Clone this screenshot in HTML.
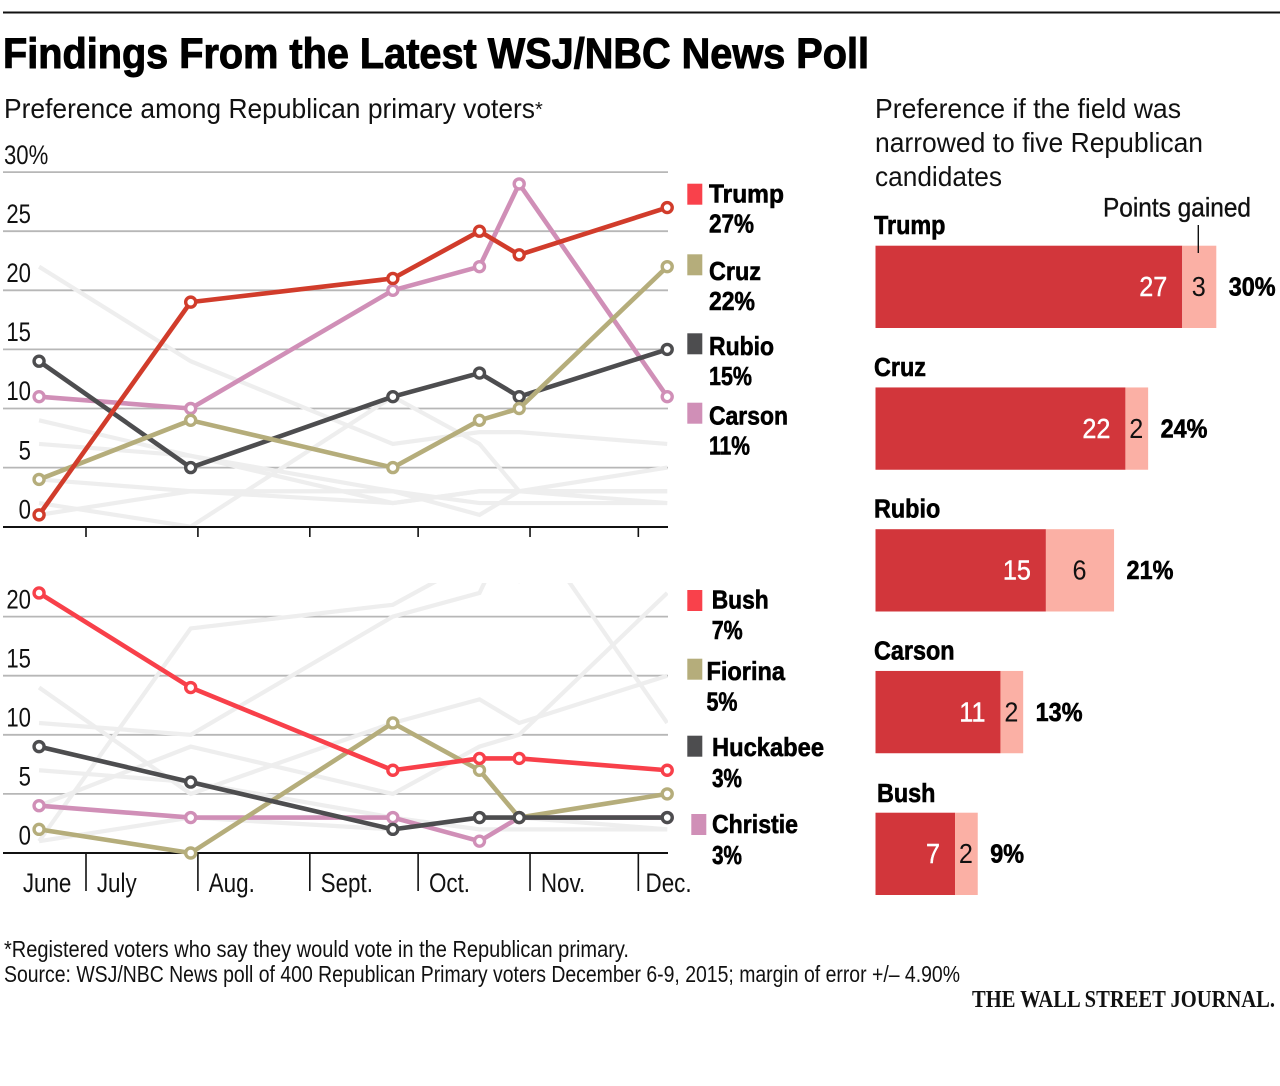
<!DOCTYPE html>
<html lang="en">
<head>
<meta charset="utf-8">
<title>Findings From the Latest WSJ/NBC News Poll</title>
<style>
html,body{margin:0;padding:0;background:#fff;}
svg{display:block;font-family:"Liberation Sans",sans-serif;}
.b{font-weight:700;fill:#000;stroke:#000;stroke-width:.6px;}
.r{fill:#111;}
</style>
</head>
<body>
<svg id="chart" xmlns="http://www.w3.org/2000/svg" width="1280" height="1086" viewBox="0 0 1280 1086">
<defs>
<clipPath id="clip-top"><rect x="0" y="150" width="668" height="377"></rect></clipPath>
<clipPath id="clip-bottom"><rect x="0" y="583" width="668" height="270"></rect></clipPath>
</defs>
<rect x="3" y="11.5" width="1277" height="2" fill="#111"></rect>
<text class="b" x="3" y="68" font-size="43" textLength="866" lengthAdjust="spacingAndGlyphs" style="stroke-width:1px">Findings From the Latest WSJ/NBC News Poll</text>
<text class="r" x="4" y="118" font-size="28" textLength="531" lengthAdjust="spacingAndGlyphs">Preference among Republican primary voters</text>
<text class="r" x="535" y="116" font-size="20">*</text>
<text class="r" x="875" y="118" font-size="28" textLength="306" lengthAdjust="spacingAndGlyphs">Preference if the field was</text>
<text class="r" x="875" y="152" font-size="28" textLength="328" lengthAdjust="spacingAndGlyphs">narrowed to five Republican</text>
<text class="r" x="875" y="186" font-size="28" textLength="127" lengthAdjust="spacingAndGlyphs">candidates</text>

<g id="top-panel"></g>
<g id="bottom-panel"></g>
<g id="bars"></g>

<g>
<rect x="687.3" y="183.7" width="15" height="21" fill="#f9414b"></rect>
<text class="b" x="709" y="202.7" font-size="26" textLength="75" lengthAdjust="spacingAndGlyphs">Trump</text>
<text class="b" x="709" y="232.3" font-size="26" textLength="45" lengthAdjust="spacingAndGlyphs">27%</text>
<rect x="687.3" y="254.3" width="15" height="21" fill="#b5ad7b"></rect>
<text class="b" x="709" y="280" font-size="26" textLength="52" lengthAdjust="spacingAndGlyphs">Cruz</text>
<text class="b" x="709" y="310" font-size="26" textLength="46" lengthAdjust="spacingAndGlyphs">22%</text>
<rect x="687.3" y="333.3" width="15" height="21" fill="#4d4d4f"></rect>
<text class="b" x="709" y="355" font-size="26" textLength="65" lengthAdjust="spacingAndGlyphs">Rubio</text>
<text class="b" x="709" y="385" font-size="26" textLength="43" lengthAdjust="spacingAndGlyphs">15%</text>
<rect x="687.3" y="402.7" width="15" height="21" fill="#d08fb7"></rect>
<text class="b" x="709" y="424.3" font-size="26" textLength="79" lengthAdjust="spacingAndGlyphs">Carson</text>
<text class="b" x="709" y="454.3" font-size="26" textLength="41" lengthAdjust="spacingAndGlyphs">11%</text>
</g>
<g>
<rect x="687.3" y="590" width="15" height="21" fill="#f9414b"></rect>
<text class="b" x="711.7" y="608.3" font-size="26" textLength="57" lengthAdjust="spacingAndGlyphs">Bush</text>
<text class="b" x="711.7" y="639" font-size="26" textLength="31" lengthAdjust="spacingAndGlyphs">7%</text>
<rect x="687.3" y="658.7" width="15" height="21" fill="#b5ad7b"></rect>
<text class="b" x="706.5" y="680" font-size="26" textLength="78.5" lengthAdjust="spacingAndGlyphs">Fiorina</text>
<text class="b" x="706.5" y="710.7" font-size="26" textLength="31" lengthAdjust="spacingAndGlyphs">5%</text>
<rect x="687.3" y="735.7" width="15" height="21" fill="#4d4d4f"></rect>
<text class="b" x="712" y="756" font-size="26" textLength="112" lengthAdjust="spacingAndGlyphs">Huckabee</text>
<text class="b" x="712" y="787" font-size="26" textLength="30" lengthAdjust="spacingAndGlyphs">3%</text>
<rect x="691.3" y="814" width="15" height="21" fill="#d08fb7"></rect>
<text class="b" x="712" y="833" font-size="26" textLength="86" lengthAdjust="spacingAndGlyphs">Christie</text>
<text class="b" x="712" y="864" font-size="26" textLength="30" lengthAdjust="spacingAndGlyphs">3%</text>
</g>

<text class="r" x="1103" y="216.7" font-size="26.5" textLength="148" lengthAdjust="spacingAndGlyphs" style="stroke:#111;stroke-width:.35px">Points gained</text>
<line x1="1198.3" y1="225" x2="1198.3" y2="253" stroke="#111" stroke-width="1.4"></line>

<text class="r" x="4" y="957" font-size="23" textLength="625" lengthAdjust="spacingAndGlyphs">*Registered voters who say they would vote in the Republican primary.</text>
<text class="r" x="4" y="982" font-size="23" textLength="956" lengthAdjust="spacingAndGlyphs">Source: WSJ/NBC News poll of 400 Republican Primary voters December 6-9, 2015; margin of error +/– 4.90%</text>
<text x="972" y="1007" font-size="24" textLength="303" lengthAdjust="spacingAndGlyphs" style="font-family:'Liberation Serif',serif;font-weight:700;fill:#111">THE WALL STREET JOURNAL.</text>
</svg>

<script>
// Poll dates as days since June 1, 2015
const pollDays = [17, 59, 115, 139, 150, 191];
const monthTickDays = [30, 61, 92, 122, 153, 183];
const monthLabels = ["June", "July", "Aug.", "Sept.", "Oct.", "Nov.", "Dec."];
const monthLabelDays = [12.5, 33, 64, 95, 125, 156, 185];

const trumpValues = [1, 19, 21, 25, 23, 27];
const cruzValues = [4, 9, 5, 9, 10, 22];
const rubioValues = [14, 5, 11, 13, 11, 15];
const carsonValues = [11, 10, 20, 22, 29, 11];
const bushValues = [22, 14, 7, 8, 8, 7];
const fiorinaValues = [2, 0, 11, 7, 3, 5];
const huckabeeValues = [9, 6, 2, 3, 3, 3];
const christieValues = [4, 3, 3, 1, 3, 3];
const otherAValues = [7, 6, 3, 2, 2, 2];
const otherBValues = [1, 3, 2, 3, 3, 2];

const topTickValues = [0, 5, 10, 15, 20, 25, 30];
const topTickLabels = ["0", "5", "10", "15", "20", "25", "30%"];
const bottomTickValues = [0, 5, 10, 15, 20];
const bottomTickLabels = ["0", "5", "10", "15", "20"];

const barNames = ["Trump", "Cruz", "Rubio", "Carson", "Bush"];
const barBaseValues = [27, 22, 15, 11, 7];
const barGainedValues = [3, 2, 6, 2, 2];

const NS = "http://www.w3.org/2000/svg";
const PX_PER_POINT = 11.82;
function xScale(day) { return 86 + (day - 30) * 3.61; }
function yTop(v) { return 526.7 - v * PX_PER_POINT; }
function yBottom(v) { return 853 - v * PX_PER_POINT; }
function barX(v) { return 875.5 + v * 11.36; }
function barTop(i) { return 245.7 + i * 141.75; }

function make(tag, parent, attrs) {
  const el = document.createElementNS(NS, tag);
  for (const k in attrs) el.setAttribute(k, attrs[k]);
  parent.appendChild(el);
  return el;
}
function label(parent, str, x, y, size, sx, anchor, cls, fill) {
  const el = make("text", parent, {
    transform: "translate(" + x + "," + y + ") scale(" + sx + ",1)",
    "font-size": size, "text-anchor": anchor
  });
  if (cls) el.setAttribute("class", cls);
  if (fill) el.setAttribute("fill", fill);
  el.textContent = str;
  return el;
}

function drawGhost(parent, values, yFn, clipId, key) {
  const pts = values.map(function (v, i) { return xScale(pollDays[i]) + "," + yFn(v); }).join(" ");
  const el = make("polyline", parent, {
    points: pts, fill: "none", stroke: "#eeeeee", "stroke-width": 4.2,
    "stroke-linejoin": "miter", "clip-path": "url(#" + clipId + ")"
  });
  
  
}
function drawSeries(parent, values, yFn, color, key) {
  const g = make("g", parent, {});
  
  
  const pts = values.map(function (v, i) { return xScale(pollDays[i]) + "," + yFn(v); }).join(" ");
  const line = make("polyline", g, {
    points: pts, fill: "none", stroke: color, "stroke-width": 4.6, "stroke-linejoin": "round"
  });
  
  
  values.forEach(function (v, i) {
    const dot = make("circle", g, {
      cx: xScale(pollDays[i]), cy: yFn(v), r: 5, fill: "#fff", stroke: color, "stroke-width": 3.4
    });
    
    
  });
}
function drawGrid(parent, tickValues, tickLabels, yFn, key) {
  tickValues.forEach(function (v, i) {
    if (v !== 0) {
      const grid = make("line", parent, {
        x1: 3, x2: 668, y1: yFn(v), y2: yFn(v), stroke: "#b7b7b7", "stroke-width": 1.8
      });
      
      
    }
    const isLast = tickLabels[i].indexOf("%") >= 0;
    const tick = label(parent, tickLabels[i], isLast ? 4 : 31, yFn(v) - 8.3, 27, 0.82, isLast ? "start" : "end", "r");
    
    
  });
}

const topPanel = document.getElementById("top-panel");
const bottomPanel = document.getElementById("bottom-panel");

/* top panel */
drawGrid(topPanel, topTickValues, topTickLabels, yTop, "top");
drawGhost(topPanel, otherAValues, yTop, "clip-top", "other-a");
drawGhost(topPanel, otherBValues, yTop, "clip-top", "other-b");
drawGhost(topPanel, bushValues, yTop, "clip-top", "bush");
drawGhost(topPanel, fiorinaValues, yTop, "clip-top", "fiorina");
drawGhost(topPanel, huckabeeValues, yTop, "clip-top", "huckabee");
drawGhost(topPanel, christieValues, yTop, "clip-top", "christie");
const topAxis = make("line", topPanel, { x1: 3, x2: 668, y1: 527, y2: 527, stroke: "#111", "stroke-width": 2 });


monthTickDays.forEach(function (d) {
  const t = make("line", topPanel, { x1: xScale(d), x2: xScale(d), y1: 527, y2: 537, stroke: "#111", "stroke-width": 1.6 });
  
  
});
drawSeries(topPanel, carsonValues, yTop, "#d08fb7", "carson");
drawSeries(topPanel, rubioValues, yTop, "#4d4d4f", "rubio");
drawSeries(topPanel, cruzValues, yTop, "#b5ad7b", "cruz");
drawSeries(topPanel, trumpValues, yTop, "#d13c2b", "trump");

/* bottom panel */
drawGrid(bottomPanel, bottomTickValues, bottomTickLabels, yBottom, "bottom");
drawGhost(bottomPanel, otherAValues, yBottom, "clip-bottom", "other-a");
drawGhost(bottomPanel, otherBValues, yBottom, "clip-bottom", "other-b");
drawGhost(bottomPanel, trumpValues, yBottom, "clip-bottom", "trump");
drawGhost(bottomPanel, cruzValues, yBottom, "clip-bottom", "cruz");
drawGhost(bottomPanel, rubioValues, yBottom, "clip-bottom", "rubio");
drawGhost(bottomPanel, carsonValues, yBottom, "clip-bottom", "carson");
const bottomAxis = make("line", bottomPanel, { x1: 3, x2: 668, y1: 853, y2: 853, stroke: "#111", "stroke-width": 2 });


monthTickDays.forEach(function (d) {
  const t = make("line", bottomPanel, { x1: xScale(d), x2: xScale(d), y1: 853, y2: 891, stroke: "#111", "stroke-width": 1.6 });
  
  
});
monthLabels.forEach(function (m, i) {
  const t = label(bottomPanel, m, xScale(monthLabelDays[i]), 892, 27, 0.83, "start", "r");
  
  
});
drawSeries(bottomPanel, christieValues, yBottom, "#d08fb7", "christie");
drawSeries(bottomPanel, fiorinaValues, yBottom, "#b5ad7b", "fiorina");
drawSeries(bottomPanel, huckabeeValues, yBottom, "#4d4d4f", "huckabee");
drawSeries(bottomPanel, bushValues, yBottom, "#f8404a", "bush");

/* bars */
const barsGroup = document.getElementById("bars");
barNames.forEach(function (name, i) {
  const key = name.toLowerCase();
  const base = barBaseValues[i];
  const gained = barGainedValues[i];
  const top = barTop(i);
  const h = 82.3;
  const mid = top + 50.5;
  const nameLabel = label(barsGroup, name, i === 4 ? 877 : 874, top - (i === 4 ? 10.7 : 11.7), 26, 0.9, "start", "b");
  
  
  const baseRect = make("rect", barsGroup, { x: barX(0), y: top, width: barX(base) - barX(0), height: h, fill: "#d2363b" });
  
  
  const gainRect = make("rect", barsGroup, { x: barX(base), y: top, width: barX(base + gained) - barX(base), height: h, fill: "#fbb0a5" });
  
  
  const baseLabel = label(barsGroup, String(base), barX(base) - 15, mid, 28, 0.9, "end", null, "#fff");
  baseLabel.setAttribute('stroke', '#fff');
  baseLabel.setAttribute('stroke-width', '0.4');
  
  
  const gainLabel = label(barsGroup, String(gained), (barX(base) + barX(base + gained)) / 2 - 0.5, mid, 28, 0.9, "middle", "r");
  
  
  const totalLabel = label(barsGroup, (base + gained) + "%", barX(base + gained) + 12.5, mid - 0.5, 26, 0.9, "start", "b");
  
  
});
</script>
</body>
</html>
